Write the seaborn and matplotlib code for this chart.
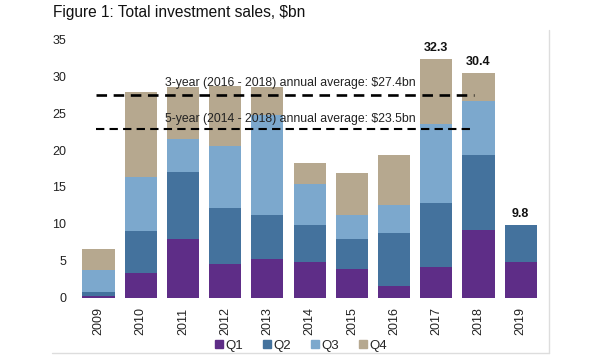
import numpy as np
import pandas as pd
import matplotlib
matplotlib.use("Agg")
import matplotlib.pyplot as plt
import seaborn as sns
from matplotlib.lines import Line2D

years = ["2009", "2010", "2011", "2012", "2013", "2014", "2015", "2016", "2017", "2018", "2019"]
q1 = [0.2, 3.4, 8.0, 4.6, 5.3, 4.9, 3.9, 1.6, 4.1, 9.2, 4.8]
q2 = [0.6, 5.6, 9.0, 7.6, 5.9, 4.9, 4.1, 7.1, 8.7, 10.1, 5.0]
q3 = [2.95, 7.3, 4.5, 8.4, 13.6, 5.6, 3.2, 3.9, 10.7, 7.3, 0.0]
q4 = [2.85, 11.5, 7.0, 8.1, 3.8, 2.9, 5.7, 6.7, 8.8, 3.8, 0.0]
quarters = ["Q1", "Q2", "Q3", "Q4"]
colors = ["#5e2d87", "#44729d", "#7ca8cd", "#b6a88f"]
labelled = {"2017": "32.3", "2018": "30.4", "2019": "9.8"}
avg3 = 27.5
avg5 = 22.8
avg3_text = "3-year (2016 - 2018) annual average: $27.4bn"
avg5_text = "5-year (2014 - 2018) annual average: $23.5bn"

df = pd.DataFrame({"year": years, "Q1": q1, "Q2": q2, "Q3": q3, "Q4": q4})
cum = df[quarters].cumsum(axis=1)
cum["year"] = years

sns.set_style("white")
plt.rcParams["font.family"] = ["Liberation Sans", "DejaVu Sans"]

fig = plt.figure(figsize=(6, 3.6), dpi=100)
ax = fig.add_axes([0.129, 0.173, 0.774, 0.718])

# stacked bars: draw cumulative totals from the top down
for i in range(3, -1, -1):
    sns.barplot(data=cum, x="year", y=quarters[i], color=colors[i], width=0.76,
                saturation=1, ax=ax, edgecolor="none")

ax.set_ylim(0, 35)
ax.set_xlim(-0.5, 10.5)
ax.set_yticks(range(0, 36, 5))
ax.set_xlabel("")
ax.set_ylabel("")
ax.tick_params(axis="both", length=0, labelsize=9, colors="#222222")
ax.tick_params(axis="y", pad=8)
ax.tick_params(axis="x", pad=7)
plt.setp(ax.get_xticklabels(), rotation=90)
sns.despine(ax=ax, left=True, bottom=True)

# averages
ax.plot([-0.05, 8.9], [avg3, avg3], ls=(0, (4, 2.5)), color="black", lw=1.9)
ax.plot([-0.05, 8.9], [avg5, avg5], ls=(0, (4, 2.5)), color="black", lw=1.5)
ax.text(4.55, avg3 + 0.7, avg3_text, ha="center", va="bottom", fontsize=8.8, color="#222222")
ax.text(4.55, avg5 + 0.6, avg5_text, ha="center", va="bottom", fontsize=8.8, color="#222222")

totals = cum["Q4"].values
for k, lab in labelled.items():
    idx = years.index(k)
    ax.annotate(lab, (idx, totals[idx]), xytext=(0, 4), textcoords="offset points",
                ha="center", va="bottom", fontsize=9, fontweight="bold", color="#111111")

fig.text(0.088, 0.965, "Figure 1: Total investment sales, $bn", fontsize=11.2,
         va="center", ha="left", color="#111111")

handles = [Line2D([], [], marker="s", ls="", color=c, markersize=6) for c in colors]
fig.legend(handles, quarters, loc="center", bbox_to_anchor=(0.5, 0.04), ncol=4,
           frameon=False, fontsize=9.5, handletextpad=0.1, columnspacing=1.4,
           handlelength=0.8)

# light frame on right and bottom
fig.add_artist(Line2D([0.915, 0.915], [0.019, 0.917], color="#dddddd", lw=1,
                      transform=fig.transFigure))
fig.add_artist(Line2D([0.087, 0.915], [0.019, 0.019], color="#dddddd", lw=1,
                      transform=fig.transFigure))

fig.savefig("out.png", dpi=100)
